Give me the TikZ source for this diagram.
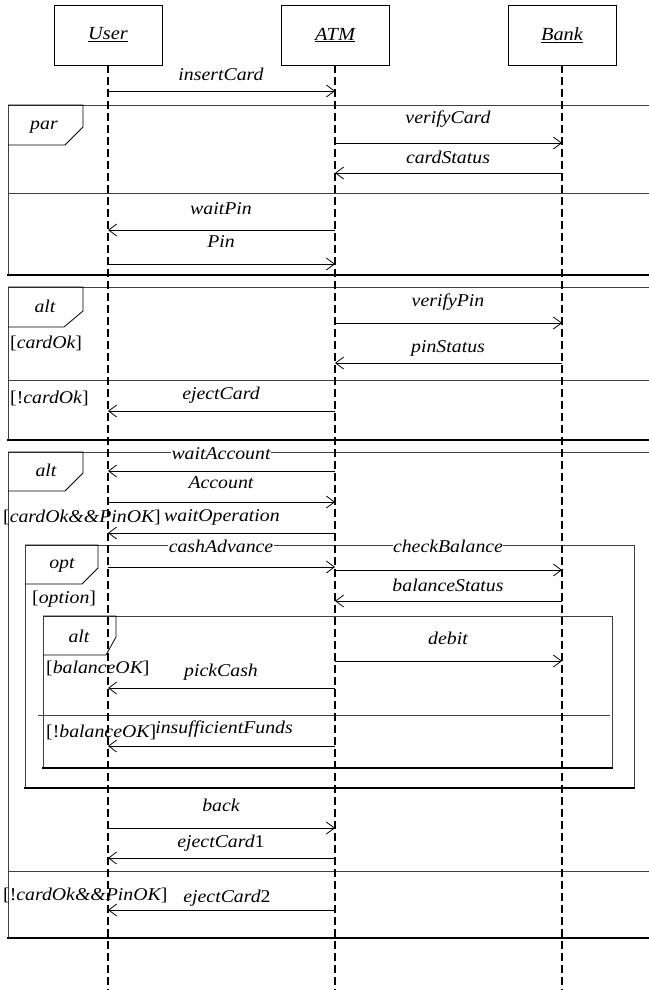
\documentclass[tikz,border=0pt]{standalone}
\usepackage{fontspec}
\setmainfont{Liberation Serif}[FakeStretch=1.1]
\usetikzlibrary{arrows.meta}
\begin{document}
\begin{tikzpicture}[x=1bp,y=-1bp,
  every node/.style={inner sep=1bp, font=\fontsize{18bp}{21bp}\selectfont\itshape},
  head/.style={draw, line width=0.8bp, minimum width=108bp, minimum height=60bp, font=\fontsize{18.5bp}{22bp}\selectfont\itshape},
  life/.style={line width=1.4bp, dash pattern=on 8bp off 4bp},
  msg/.style={line width=0.8bp, -{Straight Barb[length=8bp,width=12bp]}},
  lbl/.style={fill=white, inner sep=0.5bp},
  guard/.style={anchor=west, inner sep=0pt},
  fthin/.style={line width=0.8bp, black!75},
  fthick/.style={line width=2bp, line cap=rect},
  pent/.style={line width=0.8bp},
  ftag/.style={inner sep=0pt},
]
\useasboundingbox (0,0) rectangle (649,990);
% header nodes
\node[head] (User) at (108,35) {\underline{User}};
\node[head] (ATM)  at (335,35) {\underline{ATM}};
\node[head] (Bank) at (562,35) {\underline{Bank}};
\coordinate (Uend) at (108,990);
\coordinate (Aend) at (335,990);
\coordinate (Bend) at (562,990);

% ---- frames ----
% par
\draw[fthin] (649,105) -- (8,105) -- (8,275);
\draw[fthin] (8,193) -- (649,193);
\draw[fthick] (8,275) -- (649,275);
\draw[pent] (8,105) -- (83,105) -- (83,127) -- (65,145) -- (8,145);
\node[ftag] (tpar) at (44,127) {par};
% alt 1
\draw[fthin] (649,287) -- (8,287) -- (8,440);
\draw[fthin] (8,380) -- (649,380);
\draw[fthick] (8,440) -- (649,440);
\draw[pent] (8,287) -- (83,287) -- (83,311) -- (64,327) -- (8,327);
\node[ftag] (talt1) at (45,306) {alt};
% alt 2
\draw[fthin] (649,452) -- (8,452) -- (8,938);
\draw[fthin] (8,871) -- (649,871);
\draw[fthick] (8,938) -- (649,938);
\draw[pent] (8,452) -- (83,452) -- (83,473) -- (65,491) -- (8,491);
\node[ftag] (talt2) at (46,470) {alt};
% opt
\draw[fthin] (25,788) -- (25,545) -- (634,545) -- (634,788);
\draw[fthick] (25,788) -- (634,788);
\draw[pent] (25,545) -- (98,545) -- (98,568) -- (82,584) -- (25,584);
\node[ftag] (topt) at (62,565) {opt};
% alt 3
\draw[fthin] (43,768) -- (43,616) -- (612,616) -- (612,768);
\draw[fthin] (38,715) -- (610,715);
\draw[fthick] (43,768) -- (612,768);
\draw[pent] (43,616) -- (116,616) -- (116,637) -- (106,655) -- (43,655);
\node[ftag] (talt3) at (79,636) {alt};

% ---- lifelines ----
\draw[life] (User.south) -- (Uend);
\draw[life] (ATM.south) -- (Aend);
\draw[life] (Bank.south) -- (Bend);

% ---- messages ----
\draw[msg] (User |- 0,91) -- (ATM |- 0,91);
\node[lbl] (m1) at (221,74) {insertCard};
\draw[msg] (ATM |- 0,143) -- (Bank |- 0,143);
\node[lbl] (m2) at (448,119) {verifyCard};
\draw[msg] (Bank |- 0,173) -- (ATM |- 0,173);
\node[lbl] (m3) at (448,157) {cardStatus};
\draw[msg] (ATM |- 0,230) -- (User |- 0,230);
\node[lbl] (m4) at (221,209) {waitPin};
\draw[msg] (User |- 0,264) -- (ATM |- 0,264);
\node[lbl] (m5) at (221,242) {Pin};
\draw[msg] (ATM |- 0,323) -- (Bank |- 0,323);
\node[lbl] (m6) at (448,302) {verifyPin};
\draw[msg] (Bank |- 0,363) -- (ATM |- 0,363);
\node[lbl] (m7) at (448,348) {pinStatus};
\draw[msg] (ATM |- 0,411) -- (User |- 0,411);
\node[lbl] (m8) at (221,395) {ejectCard};
\draw[msg] (ATM |- 0,471) -- (User |- 0,471);
\node[lbl] (m9) at (221,454) {waitAccount};
\draw[msg] (User |- 0,502) -- (ATM |- 0,502);
\node[lbl] (m10) at (221,483) {Account};
\draw[msg] (ATM |- 0,533) -- (User |- 0,533);
\node[lbl] (m11) at (222,517) {waitOperation};
\draw[msg] (User |- 0,567) -- (ATM |- 0,567);
\node[lbl] (m12) at (221,546) {cashAdvance};
\draw[msg] (ATM |- 0,570) -- (Bank |- 0,570);
\node[lbl] (m13) at (448,546) {checkBalance};
\draw[msg] (Bank |- 0,601) -- (ATM |- 0,601);
\node[lbl] (m14) at (448,585) {balanceStatus};
\draw[msg] (ATM |- 0,661) -- (Bank |- 0,661);
\node[lbl] (m15) at (448,638) {debit};
\draw[msg] (ATM |- 0,688) -- (User |- 0,688);
\node[lbl] (m16) at (221,672) {pickCash};
\draw[msg] (ATM |- 0,746) -- (User |- 0,746);
\node[lbl] (m17) at (224,729) {insufficientFunds};
\draw[msg] (User |- 0,828) -- (ATM |- 0,828);
\node[lbl] (m18) at (221,805) {back};
\draw[msg] (ATM |- 0,858) -- (User |- 0,858);
\node[lbl] (m19) at (221,843) {ejectCard{\upshape 1}};
\draw[msg] (ATM |- 0,910) -- (User |- 0,910);
\node[lbl] (m20) at (227,898) {ejectCard{\upshape 2}};

% ---- guards (on top) ----
\node[guard] (g1) at (10,343) {{\upshape[}cardOk{\upshape]}};
\node[guard] (g2) at (10,398) {{\upshape[!}cardOk{\upshape]}};
\node[guard] (g3) at (3,517) {{\upshape[}cardOk\&\&PinOK{\upshape]}};
\node[guard] (g4) at (3,895) {{\upshape[!}cardOk\&\&PinOK{\upshape]}};
\node[guard] (g5) at (32,599) {{\upshape[}option{\upshape]}};
\node[guard] (g6) at (46,668) {{\upshape[}balanceOK{\upshape]}};
\node[guard] (g7) at (46,732) {{\upshape[!}balanceOK{\upshape]}};
\end{tikzpicture}
\end{document}
